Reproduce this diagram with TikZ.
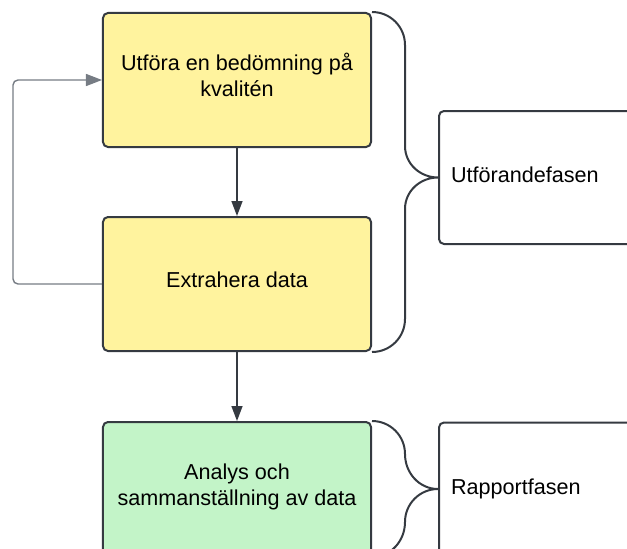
\documentclass[tikz,border=0pt]{standalone}
\usepackage{fontspec}
\setmainfont{Liberation Sans}
\usetikzlibrary{arrows.meta, positioning, calc}

\definecolor{boxyellow}{HTML}{FFF39E}
\definecolor{boxgreen}{HTML}{C3F4C8}
\definecolor{linedark}{HTML}{353A41}
\definecolor{linegray}{HTML}{767C84}

\newcommand{\boxstrut}{\rule[-9.5pt]{0pt}{26.5pt}}

\begin{document}
\begin{tikzpicture}[
  x=1pt, y=1pt,
  node distance=68pt and 66pt,
  every node/.style={font=\fontsize{21.6}{26}\selectfont},
  stepbox/.style={rectangle, draw=linedark, line width=2pt, rounded corners=5pt, minimum width=268pt, minimum height=134pt, align=center,
    execute at begin node=\boxstrut, execute at end node=\boxstrut},
  phase/.style={rectangle, draw=linedark, line width=2pt, rounded corners=5pt, minimum height=133pt, text width=176pt, inner xsep=12pt, align=left,
    execute at begin node=\strut},
  arrow/.style={-{Triangle[length=15pt, width=11pt]}, line width=1.4pt, draw=linedark},
  backarrow/.style={-{Triangle[length=16pt, width=12pt]}, line width=1.4pt, draw=linegray, rounded corners=5pt},
  brace/.style={line width=2pt, draw=linedark},
]

\useasboundingbox (-237,80) rectangle (390,-469);
\clip (-237,80) rectangle (390,-469);

\node[stepbox, fill=boxyellow] (bedomning) at (0,0) {Utföra en bedömning på \\ kvalitén};
\node[stepbox, fill=boxyellow, below=of bedomning] (extrahera) {Extrahera data};
\node[stepbox, fill=boxgreen, below=69pt of extrahera] (analys) {Analys och \\ sammanställning av data};

\node[phase, anchor=west, right=66pt of bedomning.south east, yshift=-29.5pt] (utforande) {Utförandefasen};
\node[phase, right=of analys] (rapport) {Rapportfasen};

% Connections
\draw[arrow] (bedomning) -- (extrahera);
\draw[arrow] (extrahera) -- (analys);
\draw[backarrow] (extrahera.west) -- ++(-89,0) |- (bedomning.west);

% Braces
\draw[brace] (bedomning.north east) to[out=0, in=90] ++(33,-33)
  -- ($(utforande.west)+(-33,31.5)$) to[out=-90, in=180] (utforande.west)
  to[out=180, in=90] ++(-33,-31.5)
  -- ($(extrahera.south east)+(33,33)$) to[out=-90, in=0] (extrahera.south east);
\draw[brace] (analys.north east) to[out=0, in=90] ++(33,-33)
  to[out=-90, in=180] (rapport.west)
  to[out=180, in=90] ++(-33,-33) to[out=-90, in=0] (analys.south east);

\end{tikzpicture}
\end{document}
